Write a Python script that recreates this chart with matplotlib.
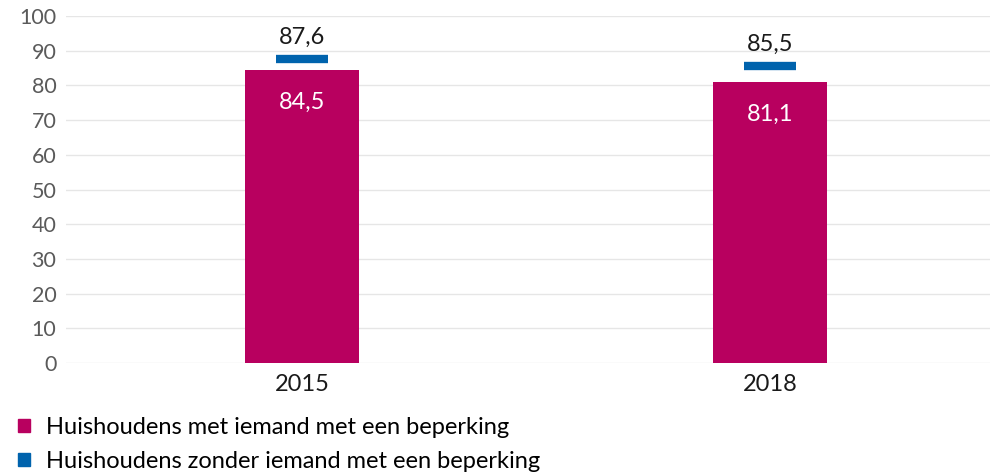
import matplotlib
matplotlib.use("Agg")
from matplotlib import pyplot as plt
from matplotlib.patches import Patch

years = ['2015', '2018']
met_beperking = [84.5, 81.1]
zonder_beperking = [87.6, 85.5]
label_met = 'Huishoudens met iemand met een beperking'
label_zonder = 'Huishoudens zonder iemand met een beperking'

magenta = '#b8005f'
blue = '#0063ad'

plt.rcParams['font.family'] = ['Lato', 'DejaVu Sans']

fig = plt.figure(figsize=(9.9, 4.76), dpi=100)
ax = fig.add_axes([66/990, 1 - 363/476, 1 - 66/990, (363 - 16)/476])

x = list(range(len(years)))
ax.bar(x, met_beperking, width=0.244, color=magenta, zorder=3)

# blue marker lines for the other group
for i, v in enumerate(zonder_beperking):
    ax.plot([i - 0.056, i + 0.056], [v, v], color=blue, linewidth=6,
            solid_capstyle='butt', zorder=4)
    ax.text(i, v + 3.3, str(v).replace('.', ','), ha='center', va='bottom',
            fontsize=17, color='#1a1a1a')

for i, v in enumerate(met_beperking):
    ax.text(i, v - 9.5, str(v).replace('.', ','), ha='center', va='center',
            fontsize=17, color='white', zorder=5)

ax.set_xlim(-0.504, 1.47)
ax.set_ylim(0, 100)
ax.set_yticks(range(0, 101, 10))
ax.set_xticks(x)
ax.set_xticklabels(years, fontsize=17, color='#1a1a1a')
ax.tick_params(axis='y', labelsize=15.5, labelcolor='#5a5a5a', length=0, pad=7)
ax.tick_params(axis='x', length=0, pad=8)
ax.grid(axis='y', color='#e6e6e6', linewidth=1, zorder=0)
for s in ax.spines.values():
    s.set_visible(False)

handles = [Patch(color=magenta, label=label_met), Patch(color=blue, label=label_zonder)]
fig.legend(handles=handles, loc='center left', bbox_to_anchor=(0.018, 0.066),
           frameon=False, fontsize=17, handlelength=0.5, handleheight=0.5,
           handletextpad=0.7, labelspacing=0.55, borderaxespad=0, borderpad=0)

fig.savefig('out.png', dpi=100)
